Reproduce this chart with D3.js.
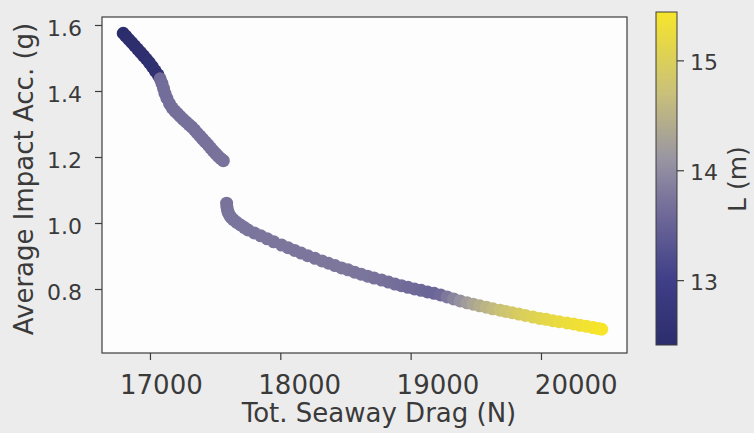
<!DOCTYPE html>
<html>
<head>
<meta charset="utf-8">
<script src="https://cdn.jsdelivr.net/npm/d3@7"></script>
<style>
  body { margin: 0; background: #ececec; }
  svg text { font-family: "DejaVu Sans", sans-serif; fill: #3a3a3a; }
</style>
</head>
<body>
<svg id="chart" width="754" height="433"></svg>
<script>
// ---- Data ----
// Tot. Seaway Drag (N)
const dragValues = [
  16795,16815,16838,16860,16882,16905,16928,16950,16972,16995,17018,17040,17062,
  17078,17092,17104,17115,17130,17150,17170,17190,17210,17232,17255,17278,17300,
  17320,17342,17364,17385,17405,17426,17447,17466,17486,17505,17524,17544,17563,
  17588,17590,17594,17600,17610,17622,17640,17665,17695,17725,17752,17800,17850,
  17900,17950,18010,18060,18110,18160,18210,18266,18320,18370,18420,18470,18520,
  18570,18620,18670,18720,18778,18830,18880,18930,18980,19030,19080,19130,19180,
  19230,19280,19330,19380,19433,19480,19530,19580,19630,19686,19730,19780,19830,
  19880,19939,19990,20040,20090,20140,20200,20250,20300,20350,20400,20440,20466
];
// Average Impact Acc. (g)
const accValues = [
  1.575,1.566,1.556,1.547,1.537,1.527,1.517,1.507,1.497,1.486,1.474,1.461,1.449,
  1.437,1.423,1.408,1.393,1.378,1.362,1.349,1.340,1.332,1.323,1.314,1.306,1.298,
  1.291,1.282,1.272,1.263,1.254,1.245,1.236,1.227,1.218,1.210,1.202,1.195,1.189,
  1.060,1.050,1.041,1.032,1.024,1.017,1.010,1.002,0.994,0.986,0.979,0.970,0.961,
  0.952,0.943,0.933,0.925,0.917,0.909,0.901,0.893,0.885,0.878,0.871,0.864,0.858,
  0.851,0.845,0.839,0.833,0.827,0.821,0.815,0.810,0.805,0.800,0.796,0.791,0.787,
  0.782,0.776,0.770,0.764,0.758,0.754,0.749,0.745,0.740,0.736,0.732,0.728,0.724,
  0.720,0.715,0.711,0.708,0.704,0.701,0.697,0.694,0.690,0.687,0.683,0.680,0.678
];
// L (m) - colour variable
const lengthValues = [
  12.41,12.42,12.43,12.44,12.45,12.46,12.47,12.48,12.49,12.50,12.51,12.52,12.53,
  13.62,13.63,13.64,13.65,13.65,13.66,13.66,13.67,13.67,13.68,13.68,13.68,13.69,
  13.69,13.69,13.70,13.70,13.70,13.70,13.71,13.71,13.71,13.71,13.72,13.72,13.72,
  13.72,13.72,13.72,13.72,13.73,13.73,13.73,13.73,13.74,13.74,13.74,13.74,13.75,
  13.75,13.75,13.75,13.76,13.76,13.76,13.76,13.76,13.77,13.77,13.77,13.77,13.77,
  13.76,13.75,13.74,13.72,13.70,13.68,13.66,13.64,13.62,13.60,13.58,13.55,13.55,
  13.62,13.78,13.92,14.06,14.20,14.32,14.43,14.53,14.62,14.71,14.79,14.86,14.93,
  14.99,15.05,15.10,15.15,15.19,15.23,15.27,15.31,15.34,15.37,15.40,15.42,15.44
];

const xTickValues = [17000, 18000, 19000, 20000];
const yTickValues = [0.8, 1.0, 1.2, 1.4, 1.6];
const cTickValues = [13, 14, 15];

// colour ramp as it appears in the reference (cividis-like, photographed)
const colorStops = [12.41, 13.0, 13.7, 14.1, 14.7, 15.44];
const colorRamp = ["#2c2d6c", "#3f3e88", "#77719b", "#9995a2", "#c9c07a", "#f6e52a"];

const xLabel = "Tot. Seaway Drag (N)";
const yLabel = "Average Impact Acc. (g)";
const cLabel = "L (m)";

// ---- Layout ----
const plot = { left: 102, right: 627, top: 17, bottom: 353 };
const cbar = { left: 656, right: 677, top: 12, bottom: 345 };
const ink = "#3c3c3c";

const svg = d3.select("#chart");

const x = d3.scaleLinear().domain([16632, 20660]).range([plot.left, plot.right]);
// tick labels in the photo sit on a slightly wider grid than the ticks (perspective)
const xLab = d3.scaleLinear().domain([16632, 20660]).range([110, 667]);
const y = d3.scaleLinear().domain([0.6061, 1.6242]).range([plot.bottom, plot.top]);
const cDomain = [colorStops[0], colorStops[colorStops.length - 1]];
const color = d3.scaleLinear().domain(colorStops).range(colorRamp).interpolate(d3.interpolateRgb);
const cy = d3.scaleLinear().domain(cDomain).range([cbar.bottom, cbar.top]);

// plot background
svg.append("rect")
  .attr("x", plot.left).attr("y", plot.top)
  .attr("width", plot.right - plot.left).attr("height", plot.bottom - plot.top)
  .attr("fill", "#fdfdfd");

const defs = svg.append("defs");
defs.append("filter").attr("id", "soft")
  .append("feGaussianBlur").attr("stdDeviation", 0.6);

// points
const pts = dragValues.map((d, i) => ({ x: d, y: accValues[i], l: lengthValues[i] }));
svg.append("g").attr("filter", "url(#soft)")
  .selectAll("circle").data(pts).join("circle")
  .attr("cx", d => x(d.x))
  .attr("cy", d => y(d.y))
  .attr("r", 6.5)
  .attr("fill", d => color(d.l));

// frame
svg.append("rect")
  .attr("x", plot.left).attr("y", plot.top)
  .attr("width", plot.right - plot.left).attr("height", plot.bottom - plot.top)
  .attr("fill", "none").attr("stroke", ink).attr("stroke-width", 1.2);

// x axis ticks
const gx = svg.append("g").attr("transform", `translate(0,${plot.bottom})`)
  .call(d3.axisBottom(x).tickValues(xTickValues).tickSize(7).tickFormat(""));
gx.select(".domain").remove();
gx.selectAll("line").attr("stroke", ink).attr("stroke-width", 1.2);

// x tick labels
const gxl = svg.append("g").attr("transform", `translate(0,${plot.bottom})`)
  .call(d3.axisBottom(xLab).tickValues(xTickValues).tickSize(0).tickFormat(d3.format("d")));
gxl.select(".domain").remove();
gxl.selectAll("text").attr("y", 41).attr("dy", null)
  .attr("font-size", 26).style("fill", "#3a3a3a");

// y axis
const gy = svg.append("g").attr("transform", `translate(${plot.left},0)`)
  .call(d3.axisLeft(y).tickValues(yTickValues).tickSize(7).tickPadding(12).tickFormat(d3.format(".1f")));
gy.select(".domain").remove();
gy.selectAll("line").attr("stroke", ink).attr("stroke-width", 1.2);
gy.selectAll("text").attr("font-size", 22).attr("dy", "0.48em").attr("x", -20).style("fill", "#3a3a3a");

// axis labels
svg.append("text").attr("x", 379).attr("y", 422)
  .attr("text-anchor", "middle").attr("font-size", 26).text(xLabel);
svg.append("text")
  .attr("transform", "translate(33,179) rotate(-90)")
  .attr("text-anchor", "middle").attr("font-size", 26).text(yLabel);

// colorbar
const grad = defs.append("linearGradient").attr("id", "cgrad")
  .attr("x1", 0).attr("y1", 1).attr("x2", 0).attr("y2", 0);
colorStops.forEach((v, i) => {
  grad.append("stop")
    .attr("offset", (v - cDomain[0]) / (cDomain[1] - cDomain[0]))
    .attr("stop-color", colorRamp[i]);
});
svg.append("rect")
  .attr("x", cbar.left).attr("y", cbar.top)
  .attr("width", cbar.right - cbar.left).attr("height", cbar.bottom - cbar.top)
  .attr("fill", "url(#cgrad)").attr("stroke", ink).attr("stroke-width", 1);

const gc = svg.append("g").attr("transform", `translate(${cbar.right},0)`)
  .call(d3.axisRight(cy).tickValues(cTickValues).tickSize(7).tickPadding(6).tickFormat(d3.format("d")));
gc.select(".domain").remove();
gc.selectAll("line").attr("stroke", ink).attr("stroke-width", 1.2);
gc.selectAll("text").attr("font-size", 22).attr("dy", "0.42em").style("fill", "#3a3a3a");

svg.append("text")
  .attr("transform", "translate(746,179) rotate(-90)")
  .attr("text-anchor", "middle").attr("font-size", 25).text(cLabel);
</script>
</body>
</html>
